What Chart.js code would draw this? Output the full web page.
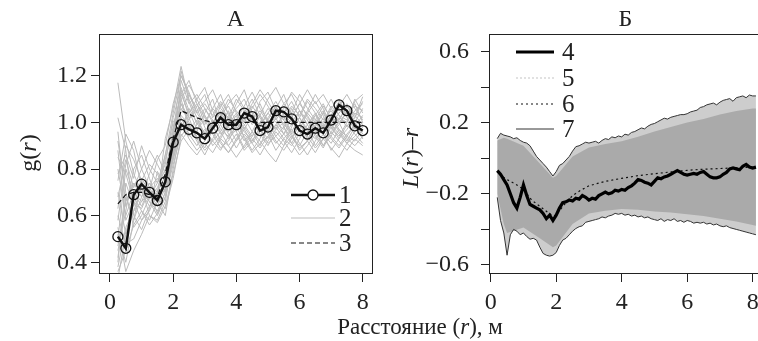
<!DOCTYPE html>
<html>
<head>
<meta charset="utf-8">
<script src="https://cdn.jsdelivr.net/npm/chart.js@4.4.1/dist/chart.umd.min.js"></script>
<style>
  body { margin: 0; width: 758px; height: 341px; overflow: hidden; background: #fff; position: relative; }
  #wa { position: absolute; left: 0; top: 0; width: 380px; height: 341px; }
  #wb { position: absolute; left: 380px; top: 0; width: 390px; height: 341px; }
  #xt { position: absolute; left: 0; top: 313px; width: 840px; text-align: center;
        font: 23px/28px "Liberation Serif", serif; color: #222; }
</style>
</head>
<body>
<div id="wa"><canvas id="chartA"></canvas></div>
<div id="wb"><canvas id="chartB"></canvas></div>
<div id="xt">Расстояние (<i>r</i>), м</div>
<script>
'use strict'

// ---- панель А : g(r) ----
const rA = [0.25,0.5,0.75,1,1.25,1.5,1.75,2,2.25,2.5,2.75,3,3.25,3.5,3.75,4,4.25,4.5,4.75,5,5.25,5.5,5.75,6,6.25,6.5,6.75,7,7.25,7.5,7.75,8];
const gObs = [0.51,0.46,0.69,0.735,0.70,0.665,0.745,0.915,0.99,0.97,0.955,0.93,0.975,1.02,0.99,0.99,1.04,1.025,0.965,0.98,1.05,1.045,1.015,0.965,0.95,0.975,0.955,1.01,1.075,1.05,0.985,0.965];
const gTheor = [0.65,0.69,0.70,0.70,0.69,0.68,0.78,0.93,1.05,1.035,1.02,1.008,1.0,1.0,1.0,1.0,1.0,1.0,1.0,1.0,1.0,1.0,1.0,1.0,1.0,1.0,1.0,1.0,1.0,1.0,1.0,1.0];
// смоделированные кривые (серые)
const gSim = [
  [1.17,0.92,0.78,0.70,0.66,0.62,0.70,0.95,1.22,1.10,1.02,0.95,1.00,1.05,0.98,0.92,0.97,1.03,1.08,1.00,0.94,0.90,0.98,1.05,1.01,0.95,0.99,1.06,1.10,1.02,0.97,1.00],
  [0.38,0.55,0.62,0.66,0.70,0.64,0.72,0.92,1.08,1.00,0.96,1.04,1.10,0.99,0.93,0.97,1.02,0.96,0.90,0.98,1.06,1.12,1.03,0.96,0.92,0.99,1.04,0.98,0.93,0.97,1.02,1.11],
  [0.75,0.95,0.88,0.72,0.60,0.58,0.66,0.85,1.05,1.12,1.06,0.98,0.90,0.94,1.00,1.08,1.14,1.04,0.97,0.93,0.99,1.03,0.95,0.88,0.92,1.01,1.07,1.02,0.96,0.91,0.94,0.98],
  [0.52,0.40,0.58,0.75,0.82,0.78,0.70,0.88,1.00,0.93,0.88,0.92,0.98,1.03,1.07,1.00,0.94,0.88,0.93,1.02,1.07,1.01,0.95,0.99,1.05,1.12,1.06,0.98,0.94,1.00,1.05,1.08],
  [0.92,0.70,0.55,0.60,0.68,0.74,0.82,1.02,1.15,1.05,0.97,1.01,0.95,0.89,0.92,0.99,1.04,1.10,1.03,0.96,0.91,0.95,1.02,1.08,1.03,0.97,0.90,0.94,1.01,1.07,1.03,0.99],
  [0.45,0.62,0.80,0.86,0.76,0.66,0.60,0.80,0.98,1.04,1.10,1.15,1.05,0.97,0.94,1.00,0.96,0.92,0.98,1.04,1.00,0.97,1.06,1.00,0.93,0.96,1.02,0.99,1.04,1.08,1.00,0.95],
  [0.60,0.48,0.50,0.58,0.64,0.70,0.77,0.90,1.10,0.98,0.92,0.86,0.93,0.99,1.05,0.96,0.89,0.94,1.00,0.95,0.88,0.93,0.97,0.91,0.86,0.92,0.98,0.94,0.90,0.95,0.99,0.93],
  [0.85,0.78,0.66,0.63,0.71,0.84,0.90,1.08,1.20,1.13,1.04,0.99,1.06,1.12,1.03,0.98,1.05,1.00,1.09,1.13,1.05,0.99,0.96,1.02,1.09,1.04,0.98,1.03,1.09,1.05,1.00,1.06],
  [0.33,0.52,0.68,0.62,0.56,0.61,0.68,0.82,0.95,0.90,0.86,0.91,0.87,0.93,0.90,0.85,0.90,0.96,0.92,0.87,0.83,0.90,0.94,0.89,0.92,0.87,0.93,0.89,0.85,0.91,0.88,0.86],
  [0.68,0.84,0.72,0.80,0.88,0.82,0.75,0.97,1.12,1.18,1.08,1.02,0.97,1.03,1.10,1.05,1.00,1.06,1.12,1.07,1.01,1.06,1.13,1.09,1.02,0.98,1.04,1.10,1.03,0.98,1.04,1.02],
  [0.55,0.36,0.45,0.52,0.60,0.57,0.64,0.78,0.92,0.97,1.01,0.95,0.99,0.92,0.87,0.93,0.99,1.02,0.95,0.90,0.96,0.92,0.87,0.93,0.99,0.94,0.89,0.96,1.00,0.93,0.90,0.94],
  [0.80,0.60,0.70,0.66,0.74,0.70,0.86,1.00,1.06,1.01,1.07,1.12,1.02,1.08,1.01,1.06,1.10,1.02,0.99,1.04,1.09,1.03,1.00,1.05,0.99,1.03,1.08,1.01,1.06,1.03,1.08,1.00],
  [1.02,0.88,0.60,0.54,0.63,0.79,0.72,0.86,1.02,0.95,0.90,0.96,1.01,0.95,0.98,1.03,0.93,0.87,0.91,0.94,0.98,0.93,0.90,0.95,0.97,0.90,0.95,0.91,0.97,0.94,0.92,0.97],
  [0.47,0.66,0.74,0.70,0.64,0.68,0.93,1.06,1.24,1.09,0.99,1.06,1.00,1.04,0.96,1.01,1.07,1.13,1.06,1.01,1.07,0.98,0.93,0.99,1.04,1.00,1.05,0.97,1.02,1.00,1.10,1.04],
  [0.40,0.74,0.64,0.76,0.70,0.61,0.70,0.88,1.03,0.99,0.94,0.89,0.97,1.02,0.95,0.89,0.95,0.91,0.86,0.92,0.97,1.00,0.94,0.90,0.96,1.00,0.95,0.88,0.93,0.99,0.95,0.91],
  [0.63,0.90,0.84,0.75,0.67,0.72,0.80,0.94,1.14,1.02,1.05,1.09,1.14,1.06,1.02,1.10,1.05,0.99,1.03,1.10,1.15,1.08,1.04,1.12,1.06,1.01,1.00,1.07,1.03,1.01,1.09,1.12],
  [0.58,0.82,0.92,0.80,0.72,0.66,0.74,0.90,1.10,1.16,1.10,1.03,0.98,0.93,0.99,1.04,0.99,0.94,1.00,1.06,1.02,0.95,0.91,0.97,1.04,1.09,1.03,0.95,0.99,1.05,0.98,0.93],
  [0.36,0.45,0.56,0.62,0.58,0.66,0.74,0.84,0.97,1.06,1.00,0.94,0.99,1.07,1.12,1.04,0.97,0.91,0.96,1.01,0.97,1.04,1.09,1.02,0.96,0.93,0.98,1.03,0.97,0.92,0.98,1.03],
  [0.96,0.64,0.74,0.68,0.78,0.86,0.78,0.96,1.08,1.02,0.93,0.97,0.92,0.88,0.94,0.98,0.92,0.96,1.03,0.98,0.92,0.88,0.93,0.99,0.94,0.89,0.93,0.99,0.95,0.91,0.96,1.00],
  [0.70,0.52,0.62,0.72,0.66,0.60,0.68,0.86,1.18,1.08,1.12,1.06,1.01,0.96,1.02,0.96,1.01,1.07,1.02,0.96,1.02,1.08,1.12,1.05,0.99,1.04,0.97,1.02,1.07,1.12,1.06,1.01],
  [0.50,0.80,0.70,0.64,0.72,0.76,0.70,0.84,1.00,0.94,0.99,1.03,0.96,0.91,0.87,0.92,0.98,0.93,0.89,0.94,0.99,0.95,0.99,1.02,0.97,1.03,0.99,0.93,0.89,0.94,0.99,0.96],
  [0.88,0.58,0.66,0.58,0.62,0.70,0.84,0.98,1.12,1.04,1.08,1.00,1.06,1.02,1.08,1.12,1.06,1.01,1.05,1.00,1.04,1.01,1.07,1.03,1.10,1.06,1.01,1.05,1.00,1.04,1.07,1.05],
  [0.42,0.68,0.58,0.68,0.74,0.68,0.63,0.76,0.94,0.99,0.93,0.88,0.92,0.96,0.90,0.95,0.88,0.92,0.97,0.91,0.94,0.98,0.91,0.86,0.90,0.95,0.90,0.96,0.92,0.88,0.93,0.90],
  [0.78,0.86,0.76,0.90,0.80,0.74,0.86,1.04,1.20,1.12,1.04,1.08,1.03,1.09,1.04,0.99,1.02,1.08,1.14,1.09,1.03,1.07,1.02,1.08,1.14,1.08,1.12,1.06,1.01,1.07,1.02,1.09]
];
const xTicks = [0, 2, 4, 6, 8];
const yTicksA = [0.4, 0.6, 0.8, 1.0, 1.2];

// ---- панель Б : L(r)-r ----
const rB = [0.2,0.3,0.4,0.5,0.6,0.7,0.8,0.9,1.0,1.1,1.2,1.3,1.4,1.5,1.6,1.7,1.8,1.9,2.0,2.1,2.2,2.3,2.4,2.5,2.6,2.7,2.8,2.9,3.0,3.1,3.2,3.3,3.4,3.5,3.6,3.7,3.8,3.9,4.0,4.1,4.2,4.3,4.4,4.5,4.6,4.7,4.8,4.9,5.0,5.1,5.2,5.3,5.4,5.5,5.6,5.7,5.8,5.9,6.0,6.1,6.2,6.3,6.4,6.5,6.6,6.7,6.8,6.9,7.0,7.1,7.2,7.3,7.4,7.5,7.6,7.7,7.8,7.9,8.0,8.1];
const lObs = [-0.07,-0.09,-0.12,-0.15,-0.20,-0.25,-0.28,-0.22,-0.15,-0.21,-0.26,-0.27,-0.28,-0.29,-0.31,-0.34,-0.32,-0.35,-0.32,-0.28,-0.25,-0.245,-0.235,-0.24,-0.225,-0.23,-0.21,-0.22,-0.235,-0.225,-0.23,-0.21,-0.20,-0.19,-0.20,-0.195,-0.18,-0.185,-0.175,-0.18,-0.165,-0.155,-0.14,-0.12,-0.125,-0.135,-0.14,-0.15,-0.13,-0.11,-0.115,-0.105,-0.10,-0.09,-0.08,-0.07,-0.08,-0.09,-0.095,-0.09,-0.085,-0.09,-0.08,-0.075,-0.09,-0.105,-0.11,-0.11,-0.105,-0.09,-0.08,-0.06,-0.055,-0.06,-0.065,-0.045,-0.035,-0.05,-0.055,-0.05];
const envHi = [0.11,0.14,0.13,0.125,0.12,0.11,0.115,0.10,0.09,0.085,0.07,0.04,0.01,-0.01,-0.03,-0.05,-0.075,-0.10,-0.075,-0.04,-0.03,-0.01,0.01,0.04,0.065,0.07,0.08,0.09,0.085,0.09,0.095,0.085,0.10,0.11,0.105,0.12,0.115,0.125,0.12,0.135,0.13,0.145,0.15,0.16,0.17,0.165,0.18,0.19,0.195,0.205,0.215,0.225,0.22,0.23,0.235,0.24,0.245,0.245,0.25,0.26,0.265,0.27,0.285,0.29,0.30,0.305,0.31,0.30,0.315,0.325,0.33,0.335,0.32,0.34,0.345,0.35,0.34,0.355,0.35,0.35];
const envLo = [-0.22,-0.35,-0.42,-0.545,-0.43,-0.40,-0.41,-0.43,-0.42,-0.44,-0.455,-0.45,-0.46,-0.50,-0.535,-0.545,-0.55,-0.545,-0.53,-0.49,-0.46,-0.45,-0.43,-0.41,-0.395,-0.385,-0.38,-0.36,-0.355,-0.35,-0.345,-0.34,-0.33,-0.335,-0.325,-0.32,-0.31,-0.315,-0.31,-0.32,-0.315,-0.325,-0.32,-0.33,-0.325,-0.335,-0.33,-0.34,-0.345,-0.35,-0.34,-0.355,-0.345,-0.35,-0.34,-0.355,-0.35,-0.36,-0.35,-0.355,-0.365,-0.36,-0.365,-0.36,-0.37,-0.365,-0.375,-0.37,-0.38,-0.385,-0.38,-0.39,-0.395,-0.40,-0.405,-0.41,-0.415,-0.42,-0.425,-0.43];
const rBand = [0.2,0.4,0.5,1.0,1.5,1.9,2.0,2.5,3.0,3.5,4.0,4.5,5.0,5.5,6.0,6.5,7.0,7.5,8.0,8.1];
const bandHi = [0.10,0.115,0.11,0.07,-0.03,-0.11,-0.10,0.01,0.06,0.08,0.095,0.12,0.15,0.175,0.20,0.22,0.245,0.265,0.28,0.28];
const bandLo = [-0.20,-0.37,-0.42,-0.39,-0.45,-0.50,-0.49,-0.37,-0.31,-0.295,-0.285,-0.29,-0.30,-0.305,-0.315,-0.325,-0.34,-0.355,-0.375,-0.38];
const rT = [0.25,0.5,0.75,1.0,1.25,1.5,1.75,1.9,2.0,2.25,2.5,2.75,3.0,3.5,4.0,4.5,5.0,5.5,6.0,6.5,7.0,7.5,8.0,8.1];
const lTheor = [-0.09,-0.12,-0.145,-0.175,-0.235,-0.27,-0.305,-0.325,-0.32,-0.26,-0.21,-0.18,-0.155,-0.13,-0.113,-0.098,-0.087,-0.077,-0.068,-0.062,-0.058,-0.054,-0.05,-0.05];
const yTicksB = [-0.6, -0.4, -0.2, 0, 0.2, 0.4, 0.6];
const yLabelsB = ['\u22120.6', '', '\u22120.2', '', '0.2', '', '0.6'];

const FONT = '"Liberation Serif"';
const pts = (xs, ys) => xs.map((x, i) => ({ x: x, y: ys[i] }));

function drawRot(ctx, parts, cx, cy, size) {
  ctx.save();
  ctx.translate(cx, cy);
  ctx.rotate(-Math.PI / 2);
  ctx.textBaseline = 'middle';
  ctx.textAlign = 'left';
  let w = 0;
  parts.forEach(p => { ctx.font = (p[1] ? 'italic ' : '') + size + 'px ' + FONT; w += ctx.measureText(p[0]).width; });
  let x = -w / 2;
  parts.forEach(p => {
    ctx.font = (p[1] ? 'italic ' : '') + size + 'px ' + FONT;
    ctx.fillText(p[0], x, 0);
    x += ctx.measureText(p[0]).width;
  });
  ctx.restore();
}

// рамка, заголовок, подпись оси и легенда
const frame = {
  id: 'frame',
  afterDraw(chart, args, o) {
    const ctx = chart.ctx, a = chart.chartArea;
    ctx.save();
    ctx.strokeStyle = '#222';
    ctx.lineWidth = 1;
    ctx.setLineDash([]);
    ctx.strokeRect(Math.round(a.left) + 0.5, Math.round(a.top) + 0.5, Math.round(a.right - a.left), Math.round(a.bottom - a.top));
    ctx.fillStyle = '#222';
    ctx.font = '24px ' + FONT;
    ctx.textAlign = 'center';
    ctx.textBaseline = 'middle';
    ctx.fillText(o.title, (a.left + a.right) / 2, 20);
    drawRot(ctx, o.ytitle, o.yx, o.yy, 24);
    o.legend.forEach(it => {
      const ds = chart.data.datasets[it.ds];
      ctx.strokeStyle = ds.borderColor;
      ctx.lineWidth = ds.borderWidth;
      ctx.setLineDash(ds.borderDash || []);
      ctx.beginPath();
      ctx.moveTo(o.lx0, it.y);
      ctx.lineTo(o.lx1, it.y);
      ctx.stroke();
      if (ds.pointRadius) {
        ctx.setLineDash([]);
        ctx.lineWidth = ds.pointBorderWidth;
        ctx.fillStyle = '#fff';
        ctx.beginPath();
        ctx.arc((o.lx0 + o.lx1) / 2, it.y, ds.pointRadius, 0, Math.PI * 2);
        ctx.fill();
        ctx.stroke();
      }
      ctx.fillStyle = '#222';
      ctx.font = '25px ' + FONT;
      ctx.textAlign = 'left';
      ctx.fillText(it.label, o.tx, it.y + 1);
    });
    ctx.restore();
  }
};

function axes(xMin, xMax, yMin, yMax, yTicks, yFmt, yWidth, yPad) {
  const tickFont = { family: 'Liberation Serif', size: 24 };
  return {
    x: {
      type: 'linear', min: xMin, max: xMax,
      afterBuildTicks: s => { s.ticks = xTicks.map(v => ({ value: v })); },
      afterFit: s => { s.height = 68; },
      grid: { drawOnChartArea: false, color: '#222', tickLength: 9 },
      border: { display: false },
      ticks: { color: '#222', font: tickFont, padding: 6, maxRotation: 0, callback: v => String(v) }
    },
    y: {
      type: 'linear', min: yMin, max: yMax,
      afterBuildTicks: s => { s.ticks = yTicks.map(v => ({ value: v })); },
      afterFit: s => { s.width = yWidth; },
      grid: { drawOnChartArea: false, color: '#222', tickLength: 8 },
      border: { display: false },
      ticks: { color: '#222', font: tickFont, padding: yPad, callback: yFmt }
    }
  };
}

// ---- график А ----
const dsA = [
  { data: pts(rA, gObs), borderColor: '#111', borderWidth: 2.5, pointRadius: 5, pointBorderWidth: 1.3,
    pointBorderColor: '#111', pointBackgroundColor: 'rgba(0,0,0,0)' },
  { data: pts(rA, gSim[0]), borderColor: '#bbbbbb', borderWidth: 1, pointRadius: 0 },
  { data: pts(rA, gTheor), borderColor: '#111', borderWidth: 1.2, borderDash: [5, 3], pointRadius: 0 }
];
gSim.forEach((s, i) => {
  if (i > 0) dsA.push({ data: pts(rA, s), borderColor: '#bbbbbb', borderWidth: 1, pointRadius: 0 });
});
// штриховая поверх серых
dsA[2].order = -1;

new Chart(document.getElementById('chartA'), {
  type: 'line',
  data: { datasets: dsA },
  options: {
    animation: false, responsive: true, maintainAspectRatio: false, events: [],
    layout: { padding: { top: 34, right: 8, left: 0, bottom: 0 } },
    elements: { line: { tension: 0 } },
    scales: axes(-0.348, 8.294, 0.354, 1.379, yTicksA, v => v.toFixed(1), 99, 4),
    plugins: {
      legend: { display: false }, tooltip: { enabled: false },
      frame: {
        title: 'А', ytitle: [['g(', false], ['r', true], [')', false]], yx: 30, yy: 153,
        lx0: 291, lx1: 335, tx: 339,
        legend: [{ ds: 0, label: '1', y: 195 }, { ds: 1, label: '2', y: 218 }, { ds: 2, label: '3', y: 243 }]
      }
    }
  },
  plugins: [frame]
});

// ---- график Б ----
const dsB = [
  { data: pts(rB, lObs), borderColor: '#000', borderWidth: 3.2, pointRadius: 0 },
  { data: pts(rBand, bandHi), borderColor: '#c4c4c4', borderWidth: 1.2, borderDash: [2, 2], pointRadius: 0,
    fill: 5, backgroundColor: '#aaaaaa' },
  { data: pts(rT, lTheor), borderColor: '#111', borderWidth: 1.2, borderDash: [2, 3], pointRadius: 0 },
  { data: pts(rB, envHi), borderColor: '#333', borderWidth: 1, pointRadius: 0 },
  { data: pts(rB, envLo), borderColor: '#333', borderWidth: 1, pointRadius: 0 },
  { data: pts(rBand, bandLo), borderColor: 'rgba(0,0,0,0)', borderWidth: 0, pointRadius: 0 },
  { data: pts(rB, envHi), borderColor: 'rgba(0,0,0,0)', borderWidth: 0, pointRadius: 0,
    fill: 7, backgroundColor: '#cdcdcd' },
  { data: pts(rB, envLo), borderColor: 'rgba(0,0,0,0)', borderWidth: 0, pointRadius: 0 }
];
// у серии 5 видна только заливка полосы
dsB[1].segment = { borderColor: () => 'rgba(0,0,0,0)' };
dsB[0].order = -3; dsB[2].order = -2; dsB[3].order = -1; dsB[4].order = -1;
dsB[1].order = 1; dsB[5].order = 2; dsB[6].order = 3; dsB[7].order = 4;

new Chart(document.getElementById('chartB'), {
  type: 'line',
  data: { datasets: dsB },
  options: {
    animation: false, responsive: true, maintainAspectRatio: false, events: [],
    layout: { padding: { top: 34, right: 8, left: 0, bottom: 0 } },
    elements: { line: { tension: 0 } },
    scales: axes(-0.052, 8.285, -0.645, 0.698, yTicksB, (v, i) => yLabelsB[i], 109, 12),
    plugins: {
      legend: { display: false }, tooltip: { enabled: false },
      filler: { propagate: false },
      frame: {
        title: 'Б', ytitle: [['L', true], ['(', false], ['r', true], [')\u2013', false], ['r', true]], yx: 32, yy: 158,
        lx0: 136, lx1: 174, tx: 182,
        legend: [{ ds: 0, label: '4', y: 52 }, { ds: 1, label: '5', y: 78 }, { ds: 2, label: '6', y: 104 }, { ds: 3, label: '7', y: 129 }]
      }
    }
  },
  plugins: [frame]
});
</script>
</body>
</html>
